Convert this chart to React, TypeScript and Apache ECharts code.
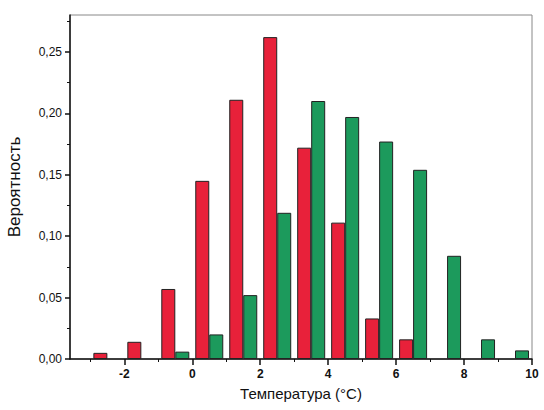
import React, { useEffect, useRef } from "react";
import * as echarts from "echarts";

// bin centres (°C) and probabilities
const redBins = [-2.5, -1.5, -0.5, 0.5, 1.5, 2.5, 3.5, 4.5, 5.5, 6.5];
const redValues = [0.005, 0.014, 0.057, 0.145, 0.211, 0.262, 0.172, 0.111, 0.033, 0.016];
const greenBins = [-0.5, 0.5, 1.5, 2.5, 3.5, 4.5, 5.5, 6.5, 7.5, 8.5, 9.5];
const greenValues = [0.006, 0.020, 0.052, 0.119, 0.210, 0.197, 0.177, 0.154, 0.084, 0.016, 0.007];

const xMajorTicks = [-2, 0, 2, 4, 6, 8, 10];
const xMinorTicks = [-3, -1, 1, 3, 5, 7, 9];
const yMajorTicks = [0, 0.05, 0.1, 0.15, 0.2, 0.25];
const yMinorTicks = [0.025, 0.075, 0.125, 0.175, 0.225, 0.275];

const FONT = "Liberation Sans, Arial, sans-serif";

export default function App() {
  const ref = useRef<HTMLDivElement>(null);
  useEffect(() => {
    if (!ref.current) return;
    const chart = echarts.init(ref.current, null, { renderer: "svg" });
    const axisColor = "#111";
    chart.setOption({
      animation: false,
      backgroundColor: "#fff",
      textStyle: { fontFamily: FONT },
      grid: {
        left: 70,
        right: 12,
        top: 15,
        bottom: 51,
        outerBoundsMode: "none",
        containLabel: false,
        show: true,
        borderColor: "#888",
        borderWidth: 1,
        backgroundColor: "transparent",
      },
      xAxis: [
        {
          type: "value",
          min: -3.6,
          max: 10,
          name: "Температура (°C)",
          nameLocation: "middle",
          nameGap: 27,
          nameTextStyle: { fontSize: 15, color: "#111", fontFamily: FONT },
          axisLine: { show: true, onZero: false, lineStyle: { color: axisColor, width: 1.5 } },
          axisTick: { show: true, customValues: xMajorTicks, length: 6, lineStyle: { color: axisColor, width: 1.5 } },
          axisLabel: {
            customValues: xMajorTicks,
            fontSize: 12,
            color: "#111",
            fontWeight: "bold",
            margin: 9,
            fontFamily: FONT,
          },
          splitLine: { show: false },
        },
        {
          type: "value",
          min: -3.6,
          max: 10,
          position: "bottom",
          axisLine: { show: false, onZero: false },
          axisTick: { show: true, customValues: xMinorTicks, length: 3, lineStyle: { color: axisColor, width: 1 } },
          axisLabel: { show: false },
          splitLine: { show: false },
        },
      ],
      yAxis: [
        {
          type: "value",
          min: 0,
          max: 0.28,
          interval: 0.05,
          name: "Вероятность",
          nameLocation: "middle",
          nameGap: 47,
          nameTextStyle: { fontSize: 17, color: "#111", fontFamily: FONT },
          axisLine: { show: true, onZero: false, lineStyle: { color: axisColor, width: 1.5 } },
          axisTick: { show: true, customValues: yMajorTicks, length: 5, lineStyle: { color: axisColor, width: 1.5 } },
          axisLabel: {
            customValues: yMajorTicks,
            fontSize: 12,
            color: "#111",
            margin: 8,
            fontFamily: FONT,
            formatter: (v: number) => v.toFixed(2).replace(".", ","),
          },
          splitLine: { show: false },
        },
        {
          type: "value",
          min: 0,
          max: 0.28,
          position: "left",
          axisLine: { show: false, onZero: false },
          axisTick: { show: true, customValues: yMinorTicks, length: 3, lineStyle: { color: axisColor, width: 1 } },
          axisLabel: { show: false },
          splitLine: { show: false },
        },
      ],
      series: [
        {
          type: "bar",
          name: "red",
          xAxisIndex: 0,
          yAxisIndex: 0,
          barWidth: 14,
          barGap: "0%",
          data: redBins.map((x, i) => [x, redValues[i]]),
          itemStyle: { color: "#e8213a", borderColor: "#222", borderWidth: 1 },
        },
        {
          type: "bar",
          name: "green",
          xAxisIndex: 0,
          yAxisIndex: 0,
          barWidth: 14,
          barGap: "0%",
          data: greenBins.map((x, i) => [x, greenValues[i]]),
          itemStyle: { color: "#1c9a5c", borderColor: "#222", borderWidth: 1 },
        },
      ],
    });
    return () => chart.dispose();
  }, []);
  return (
    <div
      ref={ref}
      style={{ position: "fixed", left: 0, top: 0, width: 544, height: 410 }}
    />
  );
}
